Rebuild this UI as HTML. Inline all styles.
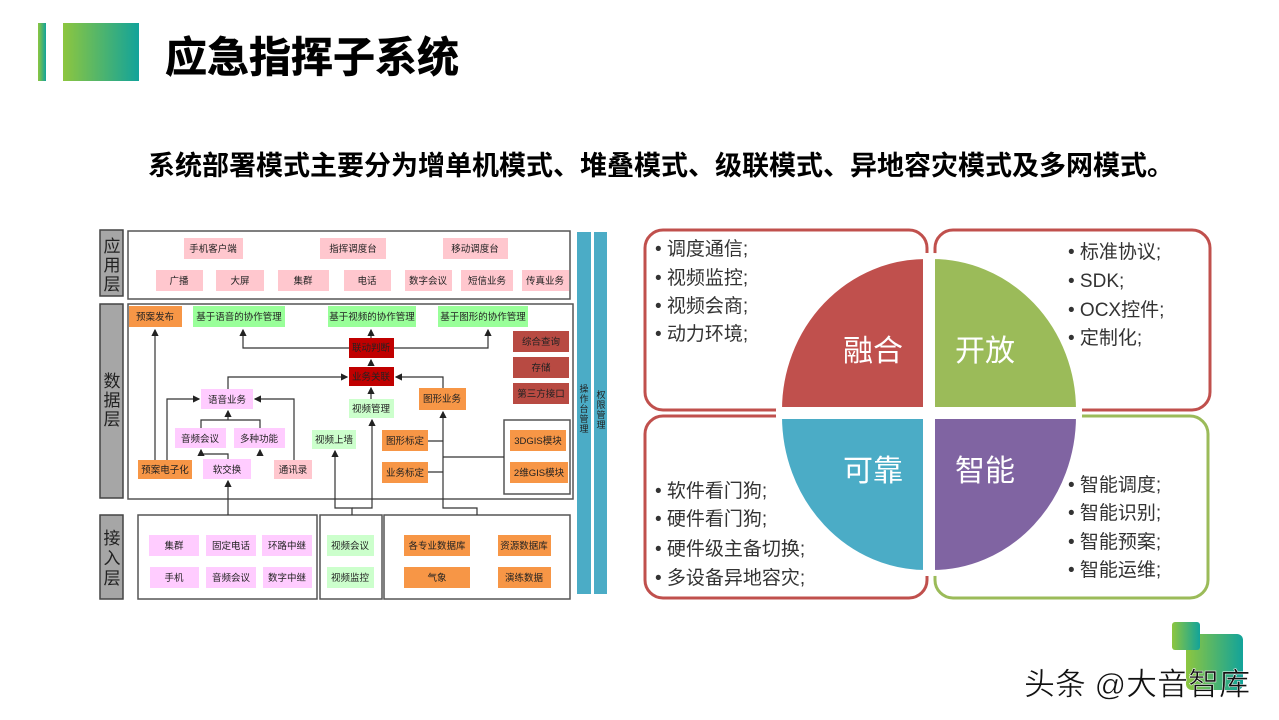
<!DOCTYPE html>
<html><head><meta charset="utf-8"><style>
body{margin:0;background:#fff;width:1279px;height:720px;overflow:hidden;font-family:"Liberation Sans","Noto Sans CJK SC",sans-serif}
svg{position:absolute;left:0;top:0}
</style></head><body>
<svg width="1279" height="720" viewBox="0 0 1279 720" font-family="Liberation Sans, Noto Sans CJK SC, sans-serif">
<defs>
<linearGradient id="g" x1="0" x2="1"><stop offset="0" stop-color="#8dc63f"/><stop offset="1" stop-color="#12a39a"/></linearGradient>
<marker id="a" markerWidth="6" markerHeight="6" refX="5" refY="3" orient="auto"><path d="M0,0L6,3L0,6z" fill="#222"/></marker>
</defs>
<rect x="38" y="23" width="8" height="58" fill="url(#g)"/>
<rect x="63" y="23" width="76" height="58" fill="url(#g)"/>
<text x="165" y="72" font-size="42" font-weight="bold" fill="#000" stroke="#000" stroke-width="0.6">应急指挥子系统</text>
<text x="148" y="175" font-size="27" font-weight="bold" fill="#000">系统部署模式主要分为增单机模式、堆叠模式、级联模式、异地容灾模式及多网模式。</text>

<!-- layer labels -->
<g fill="#a6a6a6" stroke="#444" stroke-width="1.5">
<rect x="100" y="230" width="23" height="66"/><rect x="100" y="304" width="23" height="194"/><rect x="100" y="515" width="23" height="84"/>
</g>
<g font-size="17" fill="#222" text-anchor="middle">
<text x="112" y="252">应</text><text x="112" y="271">用</text><text x="112" y="290">层</text>
<text x="112" y="387">数</text><text x="112" y="406">据</text><text x="112" y="425">层</text>
<text x="112" y="544">接</text><text x="112" y="564">入</text><text x="112" y="584">层</text>
</g>
<g fill="none" stroke="#555" stroke-width="1.5">
<rect x="128" y="231" width="442" height="68"/>
<rect x="128" y="304" width="445" height="195"/>
<rect x="504" y="420" width="66" height="74"/>
<rect x="138" y="515" width="179" height="84"/>
<rect x="320" y="515" width="62" height="84"/>
<rect x="384" y="515" width="186" height="84"/>
</g>
<rect x="577" y="232" width="14" height="362" fill="#4bacc6"/>
<rect x="594" y="232" width="13" height="362" fill="#4bacc6"/>
<g font-size="9" fill="#222" text-anchor="middle">
<text x="584" y="392">操</text><text x="584" y="402">作</text><text x="584" y="412">台</text><text x="584" y="422">管</text><text x="584" y="432">理</text>
<text x="601" y="398">权</text><text x="601" y="408">限</text><text x="601" y="418">管</text><text x="601" y="428">理</text>
</g>

<!-- lines -->
<g fill="none" stroke="#333" stroke-width="1.2">
<path d="M371,338V330" marker-end="url(#a)"/>
<path d="M349,348H243V330" marker-end="url(#a)"/>
<path d="M394,348H488V330" marker-end="url(#a)"/>
<path d="M371,366V360" marker-end="url(#a)"/>
<path d="M228,389V377H347" marker-end="url(#a)"/>
<path d="M443,388V377H396" marker-end="url(#a)"/>
<path d="M371,399V388" marker-end="url(#a)"/>
<path d="M155,460V330" marker-end="url(#a)"/>
<path d="M167,460V399H199" marker-end="url(#a)"/>
<path d="M294,460V399H255" marker-end="url(#a)"/>
<path d="M201,428V420H260V428M228,420V411" marker-end="url(#a)"/>
<path d="M228,459V454H201V450" marker-end="url(#a)"/>
<path d="M260,454V450" marker-end="url(#a)"/>
<path d="M228,515V481" marker-end="url(#a)"/>
<path d="M352,515V508H335V451" marker-end="url(#a)"/>
<path d="M352,508H372V420" marker-end="url(#a)"/>
<path d="M477,515V508H443V412" marker-end="url(#a)"/>
<path d="M428,441H443M428,472H443M443,457H504"/>
</g>

<!-- boxes -->
<g font-size="9.5" text-anchor="middle" fill="#222">
<g fill="#ffc7ce">
<rect x="184" y="238" width="59" height="21"/><rect x="320" y="238" width="66" height="21"/><rect x="443" y="238" width="65" height="21"/>
<rect x="156" y="270" width="47" height="21"/><rect x="216" y="270" width="48" height="21"/><rect x="278" y="270" width="51" height="21"/><rect x="344" y="270" width="47" height="21"/><rect x="405" y="270" width="47" height="21"/><rect x="461" y="270" width="52" height="21"/><rect x="522" y="270" width="47" height="21"/>
<rect x="274" y="460" width="38" height="19"/>
</g>
<text x="213" y="252">手机客户端</text><text x="353" y="252">指挥调度台</text><text x="475" y="252">移动调度台</text>
<text x="179" y="284">广播</text><text x="240" y="284">大屏</text><text x="303" y="284">集群</text><text x="367" y="284">电话</text><text x="428" y="284">数字会议</text><text x="487" y="284">短信业务</text><text x="545" y="284">传真业务</text>
<text x="293" y="473">通讯录</text>

<g fill="#f79646">
<rect x="129" y="306" width="53" height="21"/><rect x="419" y="388" width="47" height="22"/><rect x="138" y="460" width="54" height="19"/>
<rect x="382" y="430" width="46" height="21"/><rect x="382" y="462" width="46" height="21"/><rect x="510" y="430" width="56" height="21"/><rect x="510" y="462" width="58" height="21"/>
<rect x="404" y="535" width="66" height="21"/><rect x="498" y="535" width="53" height="21"/><rect x="404" y="567" width="66" height="21"/><rect x="498" y="567" width="53" height="21"/>
</g>
<text x="155" y="320">预案发布</text><text x="442" y="402">图形业务</text><text x="165" y="473">预案电子化</text>
<text x="405" y="444">图形标定</text><text x="405" y="476">业务标定</text><text x="538" y="444">3DGIS模块</text><text x="539" y="476">2维GIS模块</text>
<text x="437" y="549">各专业数据库</text><text x="524" y="549">资源数据库</text><text x="437" y="581">气象</text><text x="524" y="581">演练数据</text>

<g fill="#99ff99"><rect x="193" y="306" width="92" height="21"/><rect x="328" y="306" width="88" height="21"/><rect x="438" y="306" width="90" height="21"/></g>
<text x="239" y="320">基于语音的协作管理</text><text x="372" y="320">基于视频的协作管理</text><text x="483" y="320">基于图形的协作管理</text>
<g fill="#ccffcc"><rect x="349" y="399" width="45" height="19"/><rect x="312" y="430" width="44" height="19"/><rect x="327" y="535" width="47" height="21"/><rect x="327" y="567" width="47" height="21"/></g>
<text x="371" y="412">视频管理</text><text x="334" y="443">视频上墙</text><text x="350" y="549">视频会议</text><text x="350" y="581">视频监控</text>

<g fill="#c00000"><rect x="349" y="338" width="45" height="20"/><rect x="349" y="367" width="45" height="19"/></g>
<text x="371" y="351">联动判断</text><text x="371" y="380">业务关联</text>
<g fill="#b84a42"><rect x="513" y="331" width="56" height="21"/><rect x="513" y="357" width="56" height="21"/><rect x="513" y="383" width="56" height="21"/></g>
<text x="541" y="345">综合查询</text><text x="541" y="371">存储</text><text x="541" y="397">第三方接口</text>

<g fill="#ffccff">
<rect x="201" y="389" width="52" height="20"/><rect x="175" y="428" width="51" height="20"/><rect x="234" y="428" width="51" height="20"/><rect x="203" y="459" width="48" height="20"/>
<rect x="149" y="535" width="50" height="21"/><rect x="206" y="535" width="50" height="21"/><rect x="262" y="535" width="50" height="21"/>
<rect x="150" y="567" width="49" height="21"/><rect x="206" y="567" width="50" height="21"/><rect x="263" y="567" width="49" height="21"/>
</g>
<text x="227" y="403">语音业务</text><text x="200" y="442">音频会议</text><text x="259" y="442">多种功能</text><text x="227" y="473">软交换</text>
<text x="174" y="549">集群</text><text x="231" y="549">固定电话</text><text x="287" y="549">环路中继</text>
<text x="174" y="581">手机</text><text x="231" y="581">音频会议</text><text x="287" y="581">数字中继</text>
</g>

<!-- right diagram -->
<g fill="#fff" stroke-width="3">
<rect x="645" y="230" width="282" height="180" rx="18" stroke="#c0504d"/>
<rect x="935" y="230" width="275" height="180" rx="18" stroke="#c0504d"/>
<rect x="645" y="416" width="282" height="182" rx="18" stroke="#c0504d"/>
<rect x="935" y="416" width="273" height="182" rx="18" stroke="#9bbb59"/>
</g>
<g stroke="#fff" stroke-width="6">
<path d="M926,410V256A147,154 0 0 0 779,410Z" fill="#c0504d"/>
<path d="M932,410V256A147,154 0 0 1 1079,410Z" fill="#9bbb59"/>
<path d="M926,416V573A147,157 0 0 1 779,416Z" fill="#4bacc6"/>
<path d="M932,416V573A147,157 0 0 0 1079,416Z" fill="#8064a2"/>
</g>
<g font-size="30" fill="#fff" text-anchor="middle">
<text x="873" y="361">融合</text><text x="985" y="361">开放</text><text x="873" y="481">可靠</text><text x="985" y="481">智能</text>
</g>
<g font-size="19" fill="#333">
<text x="655" y="255">• 调度通信;</text><text x="655" y="284">• 视频监控;</text><text x="655" y="312">• 视频会商;</text><text x="655" y="340">• 动力环境;</text>
<text x="1068" y="258">• 标准协议;</text><text x="1068" y="287">• SDK;</text><text x="1068" y="316">• OCX控件;</text><text x="1068" y="344">• 定制化;</text>
<text x="655" y="497">• 软件看门狗;</text><text x="655" y="525">• 硬件看门狗;</text><text x="655" y="555">• 硬件级主备切换;</text><text x="655" y="584">• 多设备异地容灾;</text>
<text x="1068" y="491">• 智能调度;</text><text x="1068" y="519">• 智能识别;</text><text x="1068" y="548">• 智能预案;</text><text x="1068" y="576">• 智能运维;</text>
</g>

<!-- watermark logo -->
<rect x="1186" y="634" width="57" height="56" rx="6" fill="url(#g)"/>
<rect x="1172" y="622" width="28" height="28" rx="3" fill="url(#g)"/>
<text x="1024" y="695" font-size="31" fill="#111" stroke="#fff" stroke-width="0.5">头条 @大音智库</text>
</svg>
</body></html>
